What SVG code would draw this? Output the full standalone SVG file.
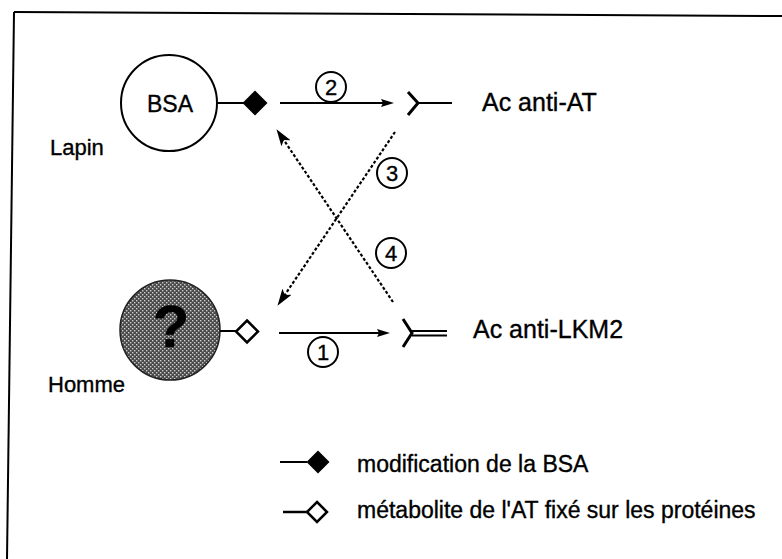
<svg xmlns="http://www.w3.org/2000/svg" width="782" height="559" viewBox="0 0 782 559">
<style>
  text { font-family: "Liberation Sans", Arial, Helvetica, sans-serif; fill: #000; stroke: #000; stroke-width: 0.35; }
  .lbl { font-size: 22px; }
  .ac { font-size: 25px; }
  .leg { font-size: 23px; }
  .num { font-size: 22px; text-anchor: middle; }
  .ring { fill: #fff; stroke: #000; stroke-width: 2; }
  .solid { stroke: #000; stroke-width: 2; fill: none; }
  .dash { stroke: #000; stroke-width: 2.2; fill: none; stroke-dasharray: 3 2; }
</style>
<defs>
  <marker id="bigHead" markerUnits="userSpaceOnUse" markerWidth="17" markerHeight="11" viewBox="0 0 17 11" refX="10" refY="5.5" orient="auto">
    <path d="M0,0 L17,5.5 L0,11 L4,5.5 z" fill="#000"/>
  </marker>
  <marker id="smallHead" markerUnits="userSpaceOnUse" markerWidth="13" markerHeight="8" viewBox="0 0 13 8" refX="9" refY="4" orient="auto">
    <path d="M0,0 L13,4 L0,8 L2,4 z" fill="#000"/>
  </marker>
  <pattern id="dither" patternUnits="userSpaceOnUse" width="4" height="4">
    <rect width="4" height="4" fill="#4a4a4a"/>
    <rect x="0" y="0" width="1.4" height="1.4" fill="#cfcfcf"/>
    <rect x="2" y="2" width="1.4" height="1.4" fill="#cfcfcf"/>
  </pattern>
</defs>

<g id="frame">
  <line x1="14" y1="12" x2="782" y2="16" stroke="#000" stroke-width="2"/>
  <line x1="14" y1="12" x2="7" y2="559" stroke="#000" stroke-width="2"/>
</g>

<g id="node-bsa">
  <circle cx="169" cy="103" r="48" class="ring"/>
  <text x="170" y="112" font-size="23" text-anchor="middle">BSA</text>
  <line x1="217" y1="103" x2="244" y2="103" class="solid"/>
  <path d="M255,90.5 L267.5,103 L255,115.5 L242.5,103 z" fill="#000"/>
</g>
<text id="label-lapin" class="lbl" x="50" y="155">Lapin</text>

<g id="node-homme">
  <circle cx="170" cy="330" r="50" fill="url(#dither)" stroke="#222" stroke-width="1.5"/>
  <text x="171" y="347" font-size="60" font-weight="bold" text-anchor="middle">?</text>
  <line x1="220" y1="331" x2="237" y2="331" class="solid"/>
  <path d="M247,320.5 L258,331.5 L247,342.5 L236,331.5 z" fill="#fff" stroke="#000" stroke-width="2.5"/>
</g>
<text id="label-homme" class="lbl" x="48" y="392">Homme</text>

<g id="node-ac-at">
  <polyline points="408,92 418,103 408,115" fill="none" stroke="#000" stroke-width="3"/>
  <line x1="418" y1="103" x2="452" y2="103" class="solid"/>
  <text class="ac" x="482" y="111">Ac anti-AT</text>
</g>

<g id="node-ac-lkm2">
  <polyline points="403,319 412,333 403,347" fill="none" stroke="#000" stroke-width="3"/>
  <line x1="412" y1="331" x2="447" y2="331" stroke="#000" stroke-width="1.8"/>
  <line x1="412" y1="335.5" x2="447" y2="335.5" stroke="#000" stroke-width="1.8"/>
  <text class="ac" x="473" y="338">Ac anti-LKM2</text>
</g>

<g id="connectors">
  <line x1="280" y1="103" x2="390" y2="103" class="solid" marker-end="url(#smallHead)"/>
  <line x1="279" y1="333" x2="386" y2="333" class="solid" marker-end="url(#smallHead)"/>
  <line x1="395" y1="132" x2="281.4" y2="300" class="dash" marker-end="url(#bigHead)"/>
  <line x1="393" y1="302" x2="280.4" y2="135" class="dash" marker-end="url(#bigHead)"/>
</g>

<g id="numbers">
  <circle cx="331" cy="87" r="15" class="ring"/>
  <text class="num" x="331" y="95">2</text>
  <circle cx="392" cy="173" r="15" class="ring"/>
  <text class="num" x="392" y="181">3</text>
  <circle cx="391" cy="253" r="15" class="ring"/>
  <text class="num" x="391" y="261">4</text>
  <circle cx="323" cy="352" r="15" class="ring"/>
  <text class="num" x="323" y="360">1</text>
</g>

<g id="legend">
  <line x1="280" y1="462" x2="307" y2="462" class="solid"/>
  <path d="M318,450.5 L329.5,462 L318,473.5 L306.5,462 z" fill="#000"/>
  <text class="leg" x="357" y="472">modification de la BSA</text>
  <line x1="283" y1="512" x2="307" y2="512" stroke="#000" stroke-width="2.5"/>
  <path d="M317,502 L327,512 L317,522 L307,512 z" fill="#fff" stroke="#000" stroke-width="2.5"/>
  <text class="leg" x="357" y="518">métabolite de l'AT fixé sur les protéines</text>
</g>
</svg>
